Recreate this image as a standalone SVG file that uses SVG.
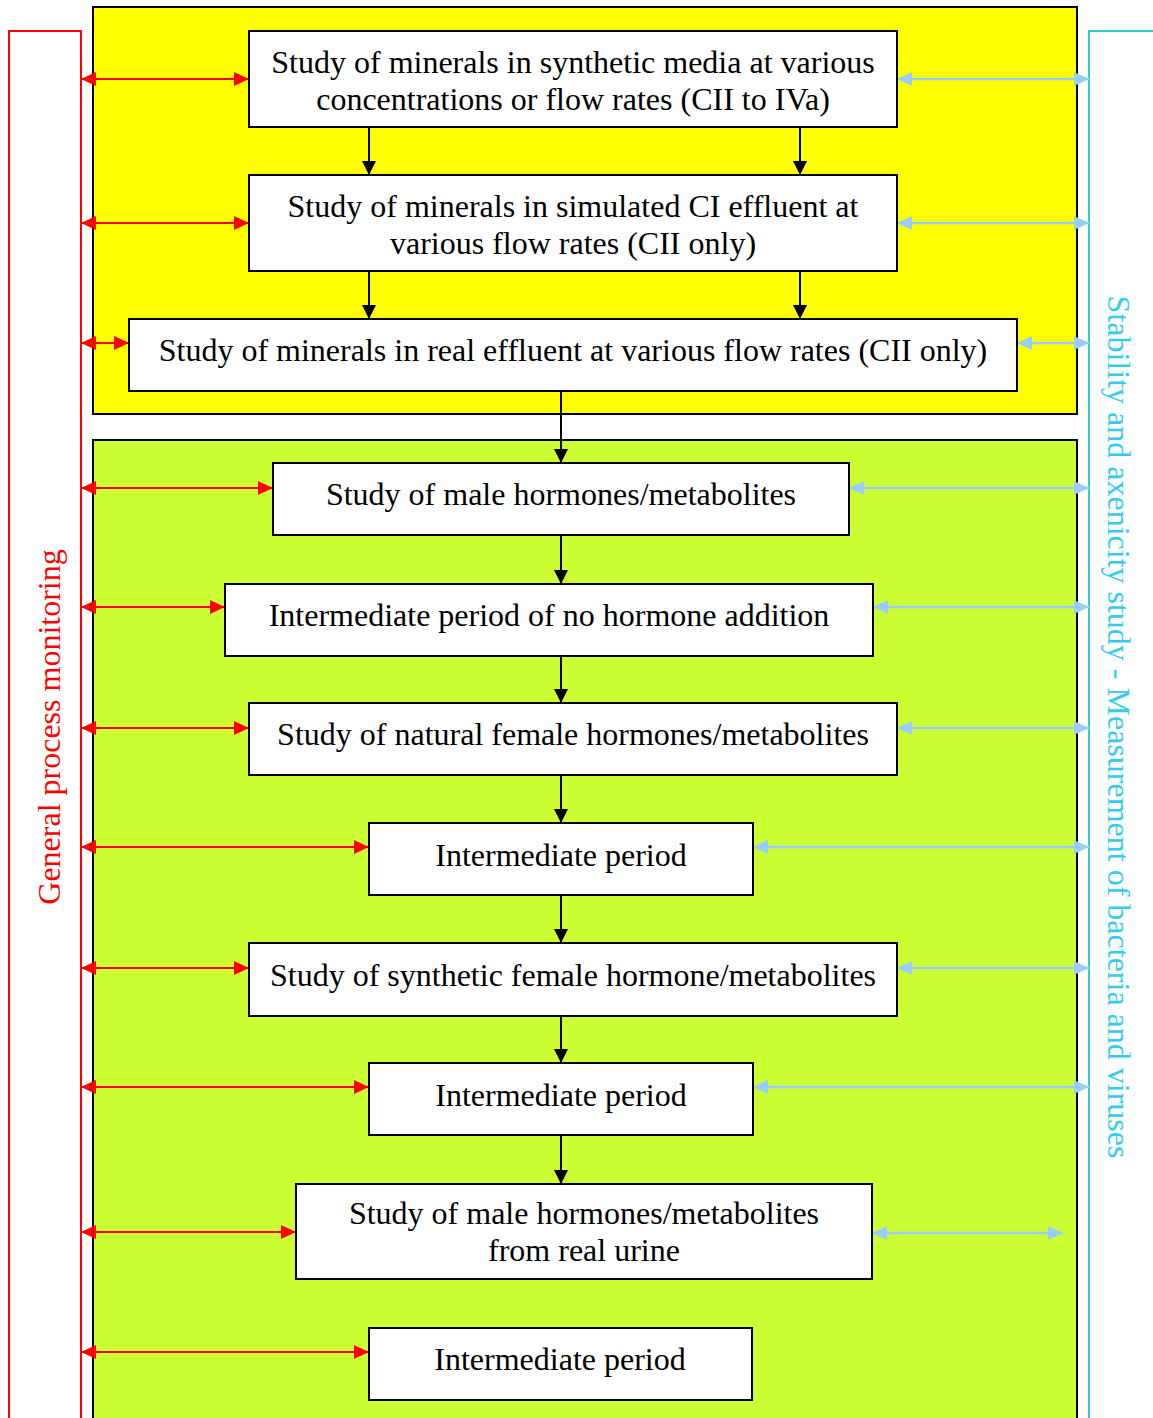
<svg xmlns="http://www.w3.org/2000/svg" width="1153" height="1418" viewBox="0 0 1153 1418">
<style>
.node rect{fill:#fff;stroke:#000;stroke-width:2}
.node text,.t{font-family:"Liberation Serif","Times New Roman",serif;font-size:32px;fill:#000;text-anchor:middle}
.blk{stroke:#000;stroke-width:2;fill:none}
.red{stroke:#f00;stroke-width:2;fill:none}
.blu{stroke:#99ccff;stroke-width:2.5;fill:none}
</style>
<defs>
<marker id="ab" markerUnits="userSpaceOnUse" markerWidth="16" markerHeight="16" refX="14" refY="8" orient="auto"><path d="M0,1 L14,8 L0,15 Z" fill="#000"/></marker>
<marker id="ar" markerUnits="userSpaceOnUse" markerWidth="16" markerHeight="16" refX="15" refY="8" orient="auto-start-reverse"><path d="M0,1 L15,8 L0,15 Z" fill="#f00"/></marker>
<marker id="ac" markerUnits="userSpaceOnUse" markerWidth="16" markerHeight="16" refX="15" refY="8" orient="auto-start-reverse"><path d="M0,1 L15,8 L0,15 Z" fill="#99ccff"/></marker>
</defs>

<g id="panels">
<rect x="93" y="7" width="984" height="407" fill="#ffff00" stroke="#000" stroke-width="2"/>
<rect x="93" y="440" width="984" height="990" fill="#ccff33" stroke="#000" stroke-width="2"/>
</g>

<g id="brackets">
<path d="M9,1420 V31 H81 V1420" class="red"/>
<path d="M1089,1420 V31 H1155" fill="none" stroke="#33cccc" stroke-width="2"/>
<text transform="translate(60,727) rotate(-90)" class="t" style="fill:#ff0000">General process monitoring</text>
<text transform="translate(1108,727) rotate(90)" class="t" style="fill:#33ccee">Stability and axenicity study - Measurement of bacteria and viruses</text>
</g>

<g id="connectors">
<line x1="369" y1="127" x2="369" y2="175" class="blk" marker-end="url(#ab)"/>
<line x1="800" y1="127" x2="800" y2="175" class="blk" marker-end="url(#ab)"/>
<line x1="369" y1="271" x2="369" y2="319" class="blk" marker-end="url(#ab)"/>
<line x1="800" y1="271" x2="800" y2="319" class="blk" marker-end="url(#ab)"/>
<line x1="561" y1="391" x2="561" y2="463" class="blk" marker-end="url(#ab)"/>
<line x1="561" y1="535" x2="561" y2="584" class="blk" marker-end="url(#ab)"/>
<line x1="561" y1="656" x2="561" y2="703" class="blk" marker-end="url(#ab)"/>
<line x1="561" y1="775" x2="561" y2="823" class="blk" marker-end="url(#ab)"/>
<line x1="561" y1="895" x2="561" y2="943" class="blk" marker-end="url(#ab)"/>
<line x1="561" y1="1016" x2="561" y2="1063" class="blk" marker-end="url(#ab)"/>
<line x1="561" y1="1135" x2="561" y2="1184" class="blk" marker-end="url(#ab)"/>

<line x1="81" y1="79" x2="249" y2="79" class="red" marker-start="url(#ar)" marker-end="url(#ar)"/>
<line x1="81" y1="223" x2="249" y2="223" class="red" marker-start="url(#ar)" marker-end="url(#ar)"/>
<line x1="81" y1="343" x2="129" y2="343" class="red" marker-start="url(#ar)" marker-end="url(#ar)"/>
<line x1="81" y1="488" x2="273" y2="488" class="red" marker-start="url(#ar)" marker-end="url(#ar)"/>
<line x1="81" y1="607" x2="225" y2="607" class="red" marker-start="url(#ar)" marker-end="url(#ar)"/>
<line x1="81" y1="728" x2="249" y2="728" class="red" marker-start="url(#ar)" marker-end="url(#ar)"/>
<line x1="81" y1="847" x2="369" y2="847" class="red" marker-start="url(#ar)" marker-end="url(#ar)"/>
<line x1="81" y1="968" x2="249" y2="968" class="red" marker-start="url(#ar)" marker-end="url(#ar)"/>
<line x1="81" y1="1087" x2="369" y2="1087" class="red" marker-start="url(#ar)" marker-end="url(#ar)"/>
<line x1="81" y1="1232" x2="296" y2="1232" class="red" marker-start="url(#ar)" marker-end="url(#ar)"/>
<line x1="81" y1="1352" x2="369" y2="1352" class="red" marker-start="url(#ar)" marker-end="url(#ar)"/>

<line x1="897" y1="79" x2="1089" y2="79" class="blu" marker-start="url(#ac)" marker-end="url(#ac)"/>
<line x1="897" y1="223" x2="1089" y2="223" class="blu" marker-start="url(#ac)" marker-end="url(#ac)"/>
<line x1="1017" y1="343" x2="1089" y2="343" class="blu" marker-start="url(#ac)" marker-end="url(#ac)"/>
<line x1="849" y1="488" x2="1089" y2="488" class="blu" marker-start="url(#ac)" marker-end="url(#ac)"/>
<line x1="873" y1="607" x2="1089" y2="607" class="blu" marker-start="url(#ac)" marker-end="url(#ac)"/>
<line x1="897" y1="728" x2="1089" y2="728" class="blu" marker-start="url(#ac)" marker-end="url(#ac)"/>
<line x1="753" y1="847" x2="1089" y2="847" class="blu" marker-start="url(#ac)" marker-end="url(#ac)"/>
<line x1="897" y1="968" x2="1089" y2="968" class="blu" marker-start="url(#ac)" marker-end="url(#ac)"/>
<line x1="753" y1="1087" x2="1089" y2="1087" class="blu" marker-start="url(#ac)" marker-end="url(#ac)"/>
<line x1="872" y1="1233" x2="1063" y2="1233" class="blu" marker-start="url(#ac)" marker-end="url(#ac)"/>
</g>

<g id="n1" class="node"><rect x="249" y="31" width="648" height="96"/><text x="573" y="73">Study of minerals in synthetic media at various</text><text x="573" y="110">concentrations or flow rates (CII to IVa)</text></g>
<g id="n2" class="node"><rect x="249" y="175" width="648" height="96"/><text x="573" y="217">Study of minerals in simulated CI effluent at</text><text x="573" y="254">various flow rates (CII only)</text></g>
<g id="n3" class="node"><rect x="129" y="319" width="888" height="72"/><text x="573" y="361">Study of minerals in real effluent at various flow rates (CII only)</text></g>
<g id="n4" class="node"><rect x="273" y="463" width="576" height="72"/><text x="561" y="505">Study of male hormones/metabolites</text></g>
<g id="n5" class="node"><rect x="225" y="584" width="648" height="72"/><text x="549" y="626">Intermediate period of no hormone addition</text></g>
<g id="n6" class="node"><rect x="249" y="703" width="648" height="72"/><text x="573" y="745">Study of natural female hormones/metabolites</text></g>
<g id="n7" class="node"><rect x="369" y="823" width="384" height="72"/><text x="561" y="866">Intermediate period</text></g>
<g id="n8" class="node"><rect x="249" y="943" width="648" height="73"/><text x="573" y="986">Study of synthetic female hormone/metabolites</text></g>
<g id="n9" class="node"><rect x="369" y="1063" width="384" height="72"/><text x="561" y="1106">Intermediate period</text></g>
<g id="n10" class="node"><rect x="296" y="1184" width="576" height="95"/><text x="584" y="1224">Study of male hormones/metabolites</text><text x="584" y="1261">from real urine</text></g>
<g id="n11" class="node"><rect x="369" y="1328" width="383" height="72"/><text x="560" y="1370">Intermediate period</text></g>
</svg>
